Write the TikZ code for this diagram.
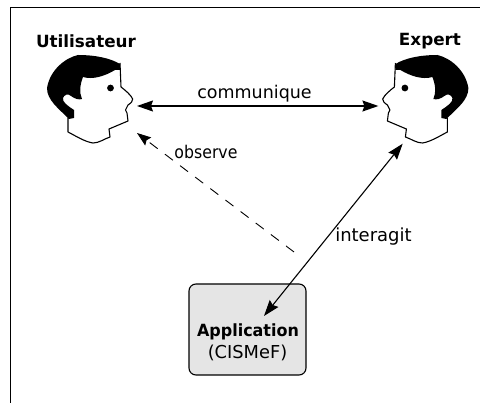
\documentclass[tikz,border=0pt]{standalone}
\usepackage{fontspec}
\usepackage{graphicx}
\setmainfont{DejaVu Sans}
\usetikzlibrary{arrows.meta}
\tikzset{
  px/.style={x=1pt,y=-1pt},
  headbox/.style={minimum width=90pt,minimum height=90pt,inner sep=0pt,outer sep=0pt},
  link/.style={line width=1.3pt,{Stealth[length=16pt,width=11pt,inset=2pt]}-{Stealth[length=16pt,width=11pt,inset=2pt]}},
  watch/.style={line width=0.9pt,dash pattern=on 10pt off 9pt,-{Stealth[length=14pt,width=10pt,inset=2pt]}},
  lbl/.style={font=\fontsize{17.5}{20}\selectfont,inner sep=0pt},
  ttl/.style={font=\fontsize{16.8}{20}\selectfont\bfseries,inner sep=0pt},
  appbox/.style={draw,line width=1.1pt,fill=black!10,rounded corners=7pt,minimum width=117pt,minimum height=91pt,inner sep=0pt},
  pics/headfig/.style={code={
    \draw[line width=1.1pt,line join=round,fill=white]
      (68,118) -- (68,132) .. controls (74,135) and (85,142) .. (93,143)
      .. controls (99,143) and (104,139) .. (110,137) -- (109,129)
      -- (128,121) -- (127,113) -- (125.5,110) -- (128,105)
      .. controls (131,103) and (133,101) .. (132.7,99)
      .. controls (131,95) and (125,90) .. (121,87) -- (120,63);
    \fill (120,64) .. controls (110,58) and (95,55) .. (78,55)
      .. controls (65,58) and (50,70) .. (47,88)
      .. controls (47,100) and (58,108) .. (69,119) -- (74,118) -- (74,110)
      .. controls (68,106) and (62,102) .. (63,98)
      .. controls (64,95) and (68,93) .. (71,96)
      .. controls (75,99) and (79,100) .. (82,99)
      .. controls (79,92) and (80,85) .. (83,77)
      .. controls (93,80) and (105,76) .. (115,70) -- (120,70) -- cycle;
    \fill (110.5,88) circle (3.4pt);
  }}
}
\begin{document}
\begin{tikzpicture}[px]
\useasboundingbox (0,0) rectangle (480,403);
\coordinate (frameTL) at (10.5,7.5);
\coordinate (frameTR) at (480,7.5);
\coordinate (frameBL) at (10.5,403);
\draw[line width=0.9pt] (frameBL) -- (frameTL) -- (frameTR);
\pic {headfig};
\begin{scope}[shift={(515.4,0)},xscale=-1]
\pic[transform shape] {headfig};
\end{scope}
\node[headbox] (user) at (92,106) {};
\node[headbox] (expert) at (423.4,106) {};
\node[ttl] (usertitle) at (86,41) {Utilisateur};
\node[ttl] (experttitle) at (430,41) {Expert};
\node[appbox] (app) at (247.5,329.5) {};
\node[ttl] (apptitle) at (248,332) {\scalebox{0.95}[1]{Application}};
\node[lbl,font=\fontsize{17.8}{20}\selectfont] (appsub) at (247.5,352.5) {(CISMeF)};
\coordinate (obsfrom) at (294,252);
\coordinate (obsto) at (137,133);
\coordinate (intexp) at (402.7,143.7);
\coordinate (intapp) at (264,316);
\draw[link] (user) -- (expert);
\draw[watch] (obsfrom) -- (obsto);
\draw[link,line width=1.1pt] (intexp) -- (intapp);
\node[lbl] (l1) at (254.5,94) {communique};
\node[lbl] (l2) at (206,152) {\scalebox{0.9}[1]{observe}};
\node[lbl,font=\fontsize{18}{20}\selectfont] (l3) at (373.5,237) {interagit};
\end{tikzpicture}
\end{document}
